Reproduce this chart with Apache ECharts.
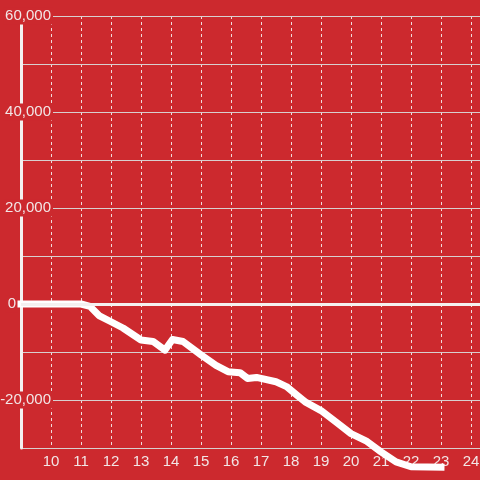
<!DOCTYPE html>
<html>
<head>
<meta charset="utf-8">
<script src="https://cdn.jsdelivr.net/npm/echarts@6/dist/echarts.min.js"></script>
<style>
  html, body { margin: 0; padding: 0; background: #cc292e; }
  #chart { width: 480px; height: 480px; }
</style>
</head>
<body>
<div id="chart"></div>
<script>
// hour of day and running total
const hours = [9, 11, 11.3, 11.6, 12, 12.4, 13, 13.4, 13.8, 14.05, 14.4, 15, 15.5, 15.9, 16.3, 16.55, 16.85, 17.5, 17.85, 18.2, 18.5, 19, 19.5, 20, 20.5, 21, 21.5, 22, 23];
const totals = [0, 0, -500, -2400, -3700, -5000, -7500, -7800, -9600, -7400, -7800, -10600, -12800, -14100, -14300, -15500, -15300, -16200, -17200, -19000, -20500, -22200, -24600, -27000, -28500, -30800, -32900, -33900, -34000];
const yLabelValues = [-20000, 0, 20000, 40000, 60000];

const bg = '#cc292e';
const textColor = '#f2e6e6';
const font = '"Liberation Sans", Arial, sans-serif';

let myChart = echarts.init(document.getElementById('chart'));

let option = {
  backgroundColor: bg,
  animation: false,
  grid: {
    left: 21,
    right: 0,
    top: 16,
    bottom: 32,
    containLabel: false,
    outerBoundsMode: 'none',
  },
  xAxis: {
    type: 'value',
    min: 9,
    max: 24.3,
    interval: 1,
    axisLine: { show: false },
    axisTick: { show: false },
    axisLabel: {
      color: textColor,
      fontSize: 15,
      fontFamily: font,
      margin: 6,
      formatter: (v) => (Number.isInteger(v) && v > 9 ? String(v) : ''),
    },
    splitLine: {
      show: true,
      lineStyle: { color: '#f0dcdc', width: 1, type: [3, 3] },
    },
  },
  yAxis: {
    type: 'value',
    min: -30000,
    max: 60000,
    interval: 10000,
    z: 1,
    axisLine: { show: true, lineStyle: { color: '#f4f0f0', width: 3 } },
    axisTick: { show: false },
    axisLabel: {
      margin: -32,
      color: textColor,
      fontSize: 15,
      fontFamily: font,
      formatter: (v) => {
        if (yLabelValues.indexOf(v) < 0) return '';
        if (v === 0) return '{z|0}{s| }';
        return '{a|' + v.toLocaleString('en-US') + '}';
      },
      rich: {
        a: { backgroundColor: bg, padding: [1, 2, 1, 2], color: textColor, fontSize: 15, fontFamily: font },
        z: { backgroundColor: bg, padding: [1, 2, 1, 2], color: textColor, fontSize: 15, fontFamily: font },
        s: { width: 35, fontSize: 15, fontFamily: font },
      },
    },
    splitLine: {
      show: true,
      lineStyle: { color: '#d8cfcf', width: 1 },
    },
  },
  series: [
    {
      type: 'line',
      data: hours.map((h, i) => [h, totals[i]]),
      showSymbol: false,
      clip: false,
      lineStyle: { color: '#ffffff', width: 7, cap: 'square', join: 'round' },
      markLine: {
        silent: true,
        symbol: 'none',
        label: { show: false },
        lineStyle: { color: '#f4f0f0', width: 3, type: 'solid' },
        data: [{ yAxis: 0 }],
      },
    },
  ],
};

myChart.setOption(option, true);
</script>
</body>
</html>
